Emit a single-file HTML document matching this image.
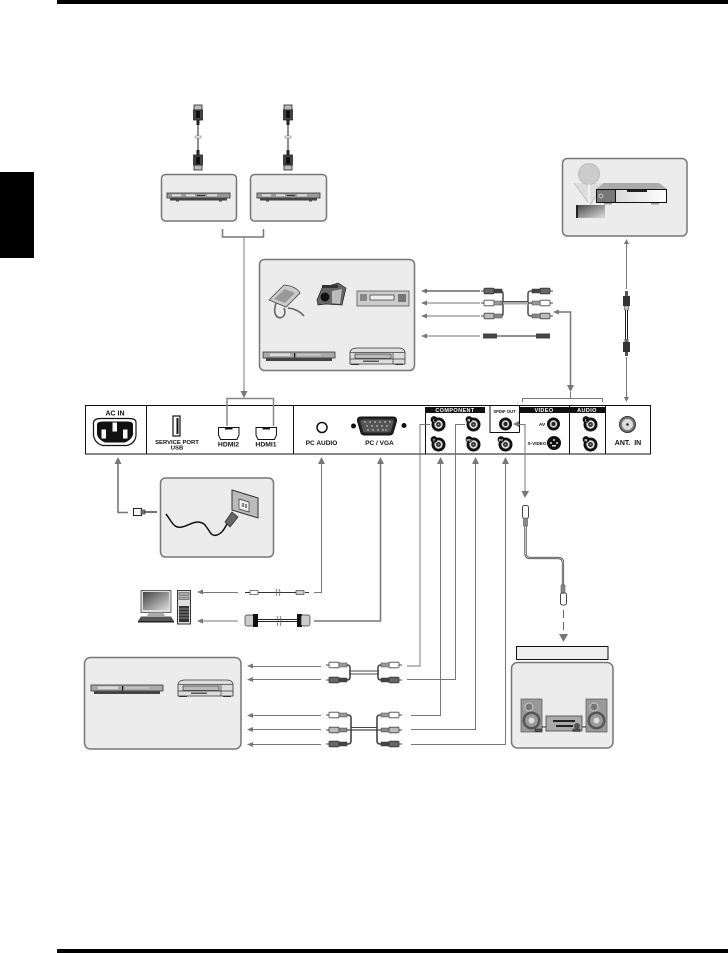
<!DOCTYPE html>
<html><head><meta charset="utf-8"><style>
html,body{margin:0;padding:0;background:#fff}
svg{display:block;font-family:"Liberation Sans",sans-serif}
.box{fill:#ececec;stroke:#777;stroke-width:1.5}
.ln{fill:none;stroke:#777;stroke-width:1}
.ln2{fill:none;stroke:#777;stroke-width:1.5}
.lab{font-weight:bold;fill:#111;text-anchor:middle}
.wh{font-weight:bold;fill:#fff;text-anchor:middle}
</style></head><body>
<svg width="728" height="953" viewBox="0 0 728 953" xmlns="http://www.w3.org/2000/svg">
<defs>
<linearGradient id="g2" x1="0" x2="1"><stop offset="0" stop-color="#ccc"/><stop offset="1" stop-color="#fff"/></linearGradient>
<linearGradient id="g3" x1="0" y1="0" x2="1" y2="1"><stop offset="0" stop-color="#444"/><stop offset="1" stop-color="#ddd"/></linearGradient>
<g id="jack"><circle r="7" fill="#111"/><circle r="4.2" fill="#ddd"/><circle r="2.4" fill="#222"/><circle r="1" fill="#999"/><circle cx="-4.5" cy="-5" r="3.4" fill="#111"/></g>
<g id="au"><path d="M-3.500 7H3.500L0 0Z" fill="#777"/></g>
<g id="ad"><path d="M-3.500 -7H3.500L0 0Z" fill="#777"/></g>
<g id="al"><path d="M0 0L6 -2.500V2.500Z" fill="#777"/></g>
<g id="dvd">
<rect x="0" y="0" width="63" height="5" fill="#999" stroke="#333" stroke-width=".8"/>
<rect x="3" y="5" width="57" height="2.500" fill="#444"/>
<rect x="5" y="1.300" width="9" height="2" fill="#ddd"/><rect x="19" y="1.300" width="9" height="2" fill="#ddd"/>
<rect x="40" y="1.300" width="10" height="2" fill="#ddd"/><rect x="30" y="2" width="8" height="1" fill="#333"/>
<rect x="9" y="7.500" width="3" height="1" fill="#555"/><rect x="52" y="7.500" width="3" height="1" fill="#555"/>
</g>
<g id="dvdl">
<rect x="0" y="0" width="72" height="6" fill="#aaa" stroke="#333" stroke-width=".8"/>
<rect x="3" y="6" width="66" height="3" fill="#444"/>
<rect x="7" y="1.500" width="20" height="2.500" fill="#ddd"/><rect x="31" y="1" width="1.200" height="4.500" fill="#111"/>
<rect x="34" y="2.200" width="24" height="1.400" fill="#ccc"/>
</g>
<g id="vcr">
<path d="M1 4Q2 0 8 0H50Q55 0 56 4V16H1Z" fill="#ddd" stroke="#333" stroke-width=".8"/>
<rect x="1" y="4" width="55" height="1" fill="#666"/>
<rect x="6" y="6" width="36" height="4.500" fill="#bbb" stroke="#333" stroke-width=".7"/>
<path d="M1 11H56M44 5V16" stroke="#333" stroke-width=".7" fill="none"/>
<rect x="14" y="12.600" width="16" height="1.200" fill="#333"/>
<rect x="2" y="16" width="8" height="1" fill="#333"/><rect x="46" y="16" width="8" height="1" fill="#333"/>
</g>
<g id="hdmi">
<rect x="-4" y="-16" width="8" height="5" fill="#bbb" stroke="#222" stroke-width=".8"/>
<rect x="-4.500" y="-11" width="9" height="10" fill="#444" stroke="#222" stroke-width=".8"/>
<rect x="-2" y="-10" width="4" height="7" fill="#111"/>
<path d="M-1.500 -1H1.500V4H-1.500Z" fill="#222"/>
</g>
<g id="rca"><rect x="0" y="-2.800" width="10" height="5.600" rx="1" fill="#fff" stroke="#444" stroke-width=".8"/><rect x="10" y="-2" width="8" height="4" fill="#999" stroke="#444" stroke-width=".5"/><path d="M-3 0H0" stroke="#444"/></g>
<g id="rcad"><rect x="0" y="-2.800" width="10" height="5.600" rx="1" fill="#666" stroke="#333" stroke-width=".8"/><rect x="10" y="-2" width="8" height="4" fill="#444" stroke="#333" stroke-width=".5"/><path d="M-3 0H0" stroke="#444"/></g>
<g id="rcag"><rect x="0" y="-2.800" width="10" height="5.600" rx="1" fill="#bbb" stroke="#444" stroke-width=".8"/><rect x="10" y="-2" width="8" height="4" fill="#888" stroke="#444" stroke-width=".5"/><path d="M-3 0H0" stroke="#444"/></g>
<g id="spk">
<rect width="21" height="33" fill="#999" stroke="#555" stroke-width=".7"/>
<circle cx="8" cy="8" r="4" fill="#777" stroke="#ccc"/><circle cx="10.500" cy="21.500" r="9" fill="#555"/><circle cx="10.500" cy="21.500" r="6.500" fill="#999"/><circle cx="10.500" cy="21.500" r="3" fill="#ddd"/>
</g>
</defs>

<rect x="57" y="0" width="671" height="4" fill="#000"/>
<rect x="57" y="949" width="671" height="4" fill="#000"/>
<rect x="0" y="172" width="34" height="86" fill="#000"/>

<!-- HDMI cables -->
<use href="#hdmi" transform="translate(198 121)"/><path d="M198 124V152" stroke="#222" stroke-width="1"/><rect x="195" y="136" width="6" height="2" fill="#fff" stroke="#666" stroke-width=".5"/><use href="#hdmi" transform="translate(198 154) scale(1 -1)"/>
<use href="#hdmi" transform="translate(288 121)"/><path d="M288 124V152" stroke="#222" stroke-width="1"/><rect x="285" y="136" width="6" height="2" fill="#fff" stroke="#666" stroke-width=".5"/><use href="#hdmi" transform="translate(288 154) scale(1 -1)"/>

<rect class="box" x="161.500" y="174.500" width="75" height="46.500" rx="4"/>
<rect class="box" x="250.500" y="174.500" width="76" height="46.500" rx="4"/>
<use href="#dvd" x="167" y="193"/><use href="#dvd" x="257" y="193"/>
<path class="ln2" d="M222.500 229V237H263.500V229"/>
<path class="ln" d="M244 237V392"/>
<use href="#ad" transform="translate(244 398)"/>

<!-- media box -->
<rect class="box" x="259.500" y="259.500" width="155" height="111" rx="5"/>
<path d="M269 300L284 285Q296 286 300 293L286 307Z" fill="#ccc" stroke="#444" stroke-width=".8"/><path d="M274 299L285 289L295 293L285 303Z" fill="#999"/>
<path d="M276 303Q272 316 280 318Q287 316 284 308M288 308Q298 309 304 316" fill="none" stroke="#666" stroke-width="1.600"/>
<path d="M317 300L322 288L338 283L346 288L342 305L326 304L318 305Z" fill="#666" stroke="#222" stroke-width=".7"/><circle cx="325" cy="297" r="4.500" fill="#111"/><path d="M332 291L342 289L340 304L332 303Z" fill="#bbb"/><rect x="322" y="285" width="16" height="3" fill="#333"/>
<rect x="357" y="291" width="52" height="15" fill="#ccc" stroke="#555" stroke-width=".8"/><rect x="370" y="295" width="24" height="5" fill="#eee" stroke="#444" stroke-width=".8"/><rect x="360" y="294" width="7" height="7" fill="#888"/><rect x="398" y="294" width="8" height="8" fill="#777"/>
<use href="#dvdl" x="263" y="352"/>
<use href="#vcr" x="349" y="348"/>

<!-- media arrows & cables -->
<use href="#al" x="421" y="291"/><path d="M425 291H480" stroke="#666" stroke-width="1.500"/>
<use href="#al" x="421" y="303"/><path class="ln" d="M425 303H480"/>
<use href="#al" x="421" y="316"/><path class="ln" d="M425 316H480"/>
<use href="#al" x="421" y="336"/><path class="ln" d="M425 336H480"/>
<g fill="none" stroke="#555" stroke-width="1.600">
<path d="M497 291H501Q503 291 503 294V313Q503 316 501 316H497"/>
<path d="M535 291H531Q528 291 528 294V313Q528 316 531 316H535"/>
<path d="M497 303H535"/>
</g>
<path d="M503 303H528" stroke="#aaa" stroke-width="3"/><path d="M503 301.500H528" stroke="#222" stroke-width=".7"/>
<use href="#rcad" x="484" y="291"/><use href="#rca" x="484" y="303"/><use href="#rcag" x="484" y="316"/>
<use href="#rcad" transform="translate(550 291) scale(-1 1)"/><use href="#rca" transform="translate(550 303) scale(-1 1)"/><use href="#rcag" transform="translate(550 316) scale(-1 1)"/>
<rect x="483" y="333.500" width="14" height="5" fill="#444"/><rect x="536" y="333.500" width="14" height="5" fill="#444"/><path d="M497 336H536" stroke="#222" stroke-width="1"/>
<use href="#al" x="553" y="312"/>
<path class="ln2" d="M559 312H570.500V386"/>
<use href="#ad" transform="translate(570.500 392)"/>
<path class="ln" d="M522.500 402V398.500H602.500V402M570.500 392V398"/>

<!-- satellite -->
<rect class="box" x="562.500" y="158.500" width="124.500" height="77.500" rx="5"/>
<path d="M574 183L590 205L605 183" fill="#ddd" stroke="#aaa" stroke-width=".6"/>
<circle cx="589" cy="174" r="10.500" fill="#ccc" stroke="#bbb"/><path d="M589 184V205" stroke="#fff" stroke-width="1.200"/>
<rect x="576" y="205" width="29" height="13" fill="url(#g3)"/><rect x="576" y="205" width="2" height="13" fill="#222"/>
<path d="M596 189L604 183H659L667 189Z" fill="#aaa"/>
<rect x="596.500" y="189.500" width="70" height="13" fill="url(#g2)" stroke="#111"/>
<rect x="596.500" y="189.500" width="19" height="13" fill="#777" stroke="#111"/>
<circle cx="601" cy="196" r="2" fill="none" stroke="#ddd" stroke-width=".7"/>
<rect x="627" y="190" width="20" height="2" fill="#222"/>
<rect x="604" y="203" width="8" height="1.500" fill="#999"/><rect x="651" y="203" width="8" height="1.500" fill="#999"/>
<!-- antenna -->
<path class="ln" d="M626.500 243V289M626.500 357V398"/>
<path d="M624 244H629L626.500 239ZM624 397H629L626.500 402Z" fill="#777"/>
<rect x="623" y="296" width="7" height="10" fill="#333"/><path d="M625 291H628V296H625Z" fill="#555"/><rect x="624.500" y="306" width="4" height="4" fill="#ccc" stroke="#333" stroke-width=".5"/>
<path d="M626.500 310V340" stroke="#222" stroke-width="3"/><path d="M626.500 310V340" stroke="#fff" stroke-width="1"/>
<rect x="623" y="342" width="7" height="10" fill="#333"/><path d="M625 352H628V356H625Z" fill="#555"/><rect x="624.500" y="339" width="4" height="3" fill="#666"/>

<!-- main panel -->
<rect x="85.500" y="405.500" width="565" height="48.500" fill="#fff" stroke="#111" stroke-width="1"/>
<path d="M146.500 405V454M293.500 405V454M425.500 407V454M569.500 405V454M605.500 405V454M490 405V432.500H519.500M519.500 405V432.500" fill="none" stroke="#111" stroke-width="1"/>
<rect x="425" y="407" width="60" height="6" fill="#111"/>
<rect x="519" y="407" width="50" height="6" fill="#111"/>
<rect x="569" y="407" width="36" height="6" fill="#111"/>
<text class="wh" x="455" y="412" font-size="5.500" letter-spacing=".4">COMPONENT</text>
<text class="wh" x="544" y="412" font-size="5.500" letter-spacing=".4">VIDEO</text>
<text class="wh" x="587" y="412" font-size="5.500" letter-spacing=".4">AUDIO</text>
<text class="lab" x="504.500" y="413" font-size="4.200">SPDIF OUT</text>

<text class="lab" x="115" y="415.500" font-size="7">AC IN</text>
<path d="M101 418.500Q94 418.500 93.500 422.500V435.500Q95 443.500 103 445.500H127Q135 443.500 136 435.500V422.500Q136 418.500 129 418.500Z" fill="#fff" stroke="#111" stroke-width="1.200"/>
<path d="M103 421.500Q97 421.500 97 424.500V434.500Q98 439.500 105 442.500H125Q132 439.500 133 434.500V424.500Q133 421.500 127 421.500Z" fill="#111"/>
<rect x="101.500" y="429.500" width="4.500" height="9" fill="#fff"/><rect x="112.500" y="422.500" width="4.500" height="9" fill="#fff"/><rect x="123" y="429.500" width="4.500" height="9" fill="#fff"/>
<rect x="173" y="416" width="7" height="20" fill="#fff" stroke="#111" stroke-width="1.200"/><rect x="176.500" y="418" width="2" height="16" fill="#111"/>
<text class="lab" x="177" y="444" font-size="5.900">SERVICE  PORT</text>
<text class="lab" x="177" y="449.500" font-size="5.900">USB</text>
<path d="M218.500 427.500H239V435L237 439.500H220.500L218.500 435Z" fill="#fff" stroke="#111" stroke-width="1"/><rect x="225" y="427" width="7.500" height="2.500" fill="#111"/>
<path d="M256 427.500H276.500V435L274.500 439.500H258L256 435Z" fill="#fff" stroke="#111" stroke-width="1"/><rect x="262.500" y="427" width="7.500" height="2.500" fill="#111"/>
<text class="lab" x="228.500" y="446.500" font-size="6.800">HDMI2</text>
<text class="lab" x="266" y="446.500" font-size="6.800">HDMI1</text>
<path class="ln2" d="M227 426V398.500H273.500V426" style="stroke:#888"/>
<circle cx="322" cy="427.500" r="5" fill="#fff" stroke="#111" stroke-width="1.500"/>
<text class="lab" x="321.500" y="445" font-size="6.500">PC AUDIO</text>
<circle cx="353.500" cy="426" r="2.500" fill="#111"/>
<circle cx="404" cy="425.500" r="2.500" fill="#111"/>
<path d="M361 417H393Q397 417 396.500 421L393 433Q392 435 389 435H365Q362 435 361 433L357.500 421Q357 417 361 417Z" fill="#222" stroke="#111"/>
<path d="M363 419.500H391Q394 419.500 393.500 422L391 431Q390 432.500 388 432.500H366Q364 432.500 363 431L360.500 422Q360 419.500 363 419.500Z" fill="#555"/>
<g fill="#eee"><circle cx="365" cy="422" r=".7"/><circle cx="370" cy="422" r=".7"/><circle cx="375" cy="422" r=".7"/><circle cx="380" cy="422" r=".7"/><circle cx="385" cy="422" r=".7"/><circle cx="390" cy="422" r=".7"/><circle cx="367" cy="426" r=".7"/><circle cx="372" cy="426" r=".7"/><circle cx="377" cy="426" r=".7"/><circle cx="382" cy="426" r=".7"/><circle cx="387" cy="426" r=".7"/><circle cx="368" cy="430" r=".7"/><circle cx="373" cy="430" r=".7"/><circle cx="378" cy="430" r=".7"/><circle cx="383" cy="430" r=".7"/><circle cx="386" cy="430" r=".7"/></g>
<text class="lab" x="379.500" y="445" font-size="6.500">PC / VGA</text>

<use href="#jack" x="438.500" y="424.500"/><use href="#jack" x="438.500" y="444.500"/>
<use href="#jack" x="473.500" y="424.500"/><use href="#jack" x="473.500" y="444.500"/>
<use href="#jack" x="505.500" y="444.500"/>
<circle cx="505.500" cy="424" r="6.500" fill="#111"/><circle cx="505.500" cy="424" r="3.800" fill="#ccc"/><circle cx="505.500" cy="424" r="2" fill="#222"/>
<use href="#jack" x="590.500" y="424.500"/><use href="#jack" x="590.500" y="444.500"/>
<circle cx="553.500" cy="424" r="6.500" fill="#111"/><circle cx="553.500" cy="424" r="3.800" fill="#ccc"/><circle cx="553.500" cy="424" r="2" fill="#222"/>
<circle cx="554" cy="443" r="7" fill="#111"/><circle cx="551" cy="443" r="1" fill="#ddd"/><circle cx="557" cy="443" r="1" fill="#ddd"/><circle cx="554" cy="440" r="1" fill="#ddd"/><rect x="552" y="445" width="4" height="1.500" fill="#ddd"/>
<g font-size="4" fill="#fff" font-weight="bold" text-anchor="middle">
<text x="434.500" y="421.500">L</text><text x="469" y="421.500">R</text><text x="434" y="441.500">Y</text><text x="469" y="441.500">Pb</text><text x="501" y="441.500">Pr</text><text x="586" y="421.500">L</text><text x="586" y="441.500">R</text></g>
<text class="lab" x="542" y="426" font-size="4.800">AV</text>
<text class="lab" x="537" y="445" font-size="4.600">S-VIDEO</text>
<circle cx="627.500" cy="424.500" r="8" fill="#777" stroke="#333" stroke-width="1"/><circle cx="627.500" cy="424.500" r="5.500" fill="#ddd"/><circle cx="627.500" cy="424.500" r="1.200" fill="#111"/>
<text class="lab" x="628" y="445" font-size="7" xml:space="preserve">ANT.  IN</text>

<!-- AC -->
<use href="#au" transform="translate(118 457)"/>
<path d="M118 463V512.500H128" fill="none" stroke="#777" stroke-width="1.600"/>
<rect x="133.500" y="508.500" width="8" height="7" fill="#fff" stroke="#222"/><rect x="141" y="510" width="4" height="4" fill="#777" stroke="#222" stroke-width=".6"/><path d="M145 512H157" stroke="#222" stroke-width="1.300"/>
<rect class="box" x="160.500" y="478" width="113" height="79" rx="5"/>
<path d="M232 490L258 498V518L232 510Z" fill="#bbb" stroke="#333" stroke-width="1"/><path d="M239 499L249 502V512L239 509Z" fill="#eee" stroke="#333" stroke-width=".7"/><path d="M243 503V507M246 504V508" stroke="#111" stroke-width="1"/>
<path d="M232 512L238 517L230 527L225 522Z" fill="#666" stroke="#333" stroke-width=".8"/>
<path d="M166 514C172 522 174 529 182 527C190 525 197 519 204 524C210 530 210 537 217 535C223 533 225 527 227 524" fill="none" stroke="#111" stroke-width="1.500"/>

<!-- PC -->
<use href="#au" transform="translate(321.500 457)"/><use href="#au" transform="translate(380.500 457)"/>
<path class="ln" d="M321.500 463V592.500H314"/>
<path class="ln2" d="M380.500 463V621H314"/>
<rect x="141" y="590.500" width="30" height="22" fill="#ddd" stroke="#444" stroke-width=".8"/><rect x="143" y="592" width="26" height="18" fill="url(#g3)"/>
<path d="M149 612.500H163L165 616H147Z" fill="#aaa"/>
<path d="M141 616.500H171L174 621H138Z" fill="#555"/><rect x="138" y="621" width="36" height="1.500" fill="#222"/>
<rect x="177.500" y="590.500" width="13" height="33.500" fill="#ddd" stroke="#333"/>
<rect x="179" y="592.500" width="10" height="3" fill="#aaa" stroke="#444" stroke-width=".5"/><rect x="179" y="597" width="10" height="2.500" fill="#aaa" stroke="#444" stroke-width=".5"/>
<rect x="179" y="606" width="10" height="16" fill="#333"/><path d="M179 609H189M179 612H189M179 615H189M179 618H189" stroke="#ddd" stroke-width=".6"/>
<use href="#al" x="197" y="592"/><path class="ln" d="M202 592.500H238"/>
<use href="#al" x="197" y="621"/><path class="ln" d="M202 621H238"/>
<path d="M245 592.500H250M258 592.500H296M305 592.500H309" stroke="#333" fill="none"/>
<rect x="250" y="590.500" width="8" height="4" fill="#fff" stroke="#444" stroke-width=".7"/><rect x="296" y="590.500" width="8" height="4" fill="#ccc" stroke="#444" stroke-width=".7"/>
<path d="M276 589Q278 592 276 596M279 589Q281 592 279 596" fill="none" stroke="#555" stroke-width=".7"/>
<rect x="245" y="615" width="9" height="11" rx="2" fill="#ccc" stroke="#333" stroke-width=".7"/><rect x="253" y="614" width="5" height="13" fill="#111"/>
<rect x="297" y="614" width="5" height="13" fill="#111"/><rect x="301" y="615" width="9" height="11" rx="2" fill="#ccc" stroke="#333" stroke-width=".7"/>
<path d="M258 620.500H297" stroke="#222" stroke-width="3"/><path d="M258 620.500H297" stroke="#fff" stroke-width="1"/>
<path d="M277 616Q279 621 277 626M280 616Q282 621 280 626" fill="none" stroke="#555" stroke-width=".7"/>

<!-- Bottom left box -->
<rect class="box" x="84.500" y="657.500" width="156.500" height="91.500" rx="6"/>
<use href="#dvdl" x="91" y="685"/>
<use href="#vcr" x="177" y="680"/>
<use href="#al" x="247" y="666"/><path class="ln" d="M252 666.500H321"/>
<use href="#al" x="247" y="679.500"/><path class="ln" d="M252 679.500H321"/>
<use href="#al" x="247" y="715.500"/><path class="ln" d="M252 715.500H321"/>
<use href="#al" x="247" y="729.500"/><path class="ln" d="M252 729.500H321"/>
<use href="#al" x="247" y="744.500"/><path class="ln" d="M252 744.500H321"/>
<!-- cables -->
<g fill="none" stroke="#444" stroke-width="1.600">
<path d="M344 665H347Q350 665 350 668V677Q350 680 347 680H344M384 665H381Q378 665 378 668V677Q378 680 381 680H384"/>
<path d="M350 671H378M350 674H378" stroke-width="1"/>
<path d="M344 715H348Q351 715 351 718V741Q351 744 348 744H344M384 715H380Q377 715 377 718V741Q377 744 380 744H384"/>
<path d="M344 730H384" stroke-width="1.300"/><path d="M351 727.500H377" stroke-width="1"/>
</g>
<use href="#rca" x="329" y="665"/><use href="#rcad" x="329" y="680"/><use href="#rca" x="329" y="715"/><use href="#rcag" x="329" y="730"/><use href="#rcad" x="329" y="744"/>
<use href="#rca" transform="translate(399 665) scale(-1 1)"/><use href="#rcad" transform="translate(399 680) scale(-1 1)"/><use href="#rca" transform="translate(399 715) scale(-1 1)"/><use href="#rcag" transform="translate(399 730) scale(-1 1)"/><use href="#rcad" transform="translate(399 744) scale(-1 1)"/>

<!-- routes to panel -->
<path class="ln" d="M430 424.500H420V666H407"/>
<path class="ln" d="M465 424.500H455.500V679.500H407"/>
<path class="ln" d="M440.500 463V715.500H411"/>
<path class="ln" d="M475.500 463V729.500H411"/>
<path class="ln" d="M505.500 463V744.500H411"/>
<use href="#au" transform="translate(440.500 457)"/><use href="#au" transform="translate(475.500 457)"/><use href="#au" transform="translate(505.500 457)"/>
<path d="M513 424L519 421V427Z" fill="#777"/>
<path class="ln" d="M518 424.500H525V491"/>
<path d="M521.500 491H529L525 498Z" fill="#777"/>

<!-- spdif cable -->
<rect x="522.500" y="505.500" width="6" height="13" rx="2" fill="#fff" stroke="#444"/><rect x="523.500" y="518" width="4" height="8" fill="#888" stroke="#444" stroke-width=".5"/>
<path d="M525.500 526V553Q525.500 558 530 558H558Q563 558 563 563V585" fill="none" stroke="#333" stroke-width="2.200"/>
<path d="M525.500 526V553Q525.500 558 530 558H558Q563 558 563 563V585" fill="none" stroke="#eee" stroke-width=".8"/>
<rect x="561" y="585" width="4" height="8" fill="#888" stroke="#444" stroke-width=".5"/><rect x="560.500" y="593" width="6" height="12" rx="2" fill="#fff" stroke="#444"/>
<path d="M563.500 610V634" stroke="#666" stroke-width="1" stroke-dasharray="8 4"/>
<path d="M559 634H568L563.500 642Z" fill="#777"/>
<rect x="516.500" y="646.500" width="91.500" height="13" fill="#eee" stroke="#111" stroke-width="1"/>
<rect class="box" x="511.500" y="662.500" width="101.500" height="85.500" rx="6"/>
<use href="#spk" x="521" y="699"/><use href="#spk" x="586" y="699"/>
<path d="M542 727H546M582 727H586" stroke="#333"/>
<rect x="546" y="716" width="36" height="15" fill="#aaa" stroke="#444" stroke-width=".8"/>
<rect x="553" y="720" width="22" height="2" fill="#222"/><rect x="556" y="725" width="17" height="2" fill="#222"/>
<circle cx="577" cy="726" r="3" fill="#555"/>
<rect x="535" y="729" width="7" height="2.500" fill="#555" stroke="#222" stroke-width=".5"/><rect x="573" y="729" width="7" height="2.500" fill="#555" stroke="#222" stroke-width=".5"/>
</svg>
</body></html>
